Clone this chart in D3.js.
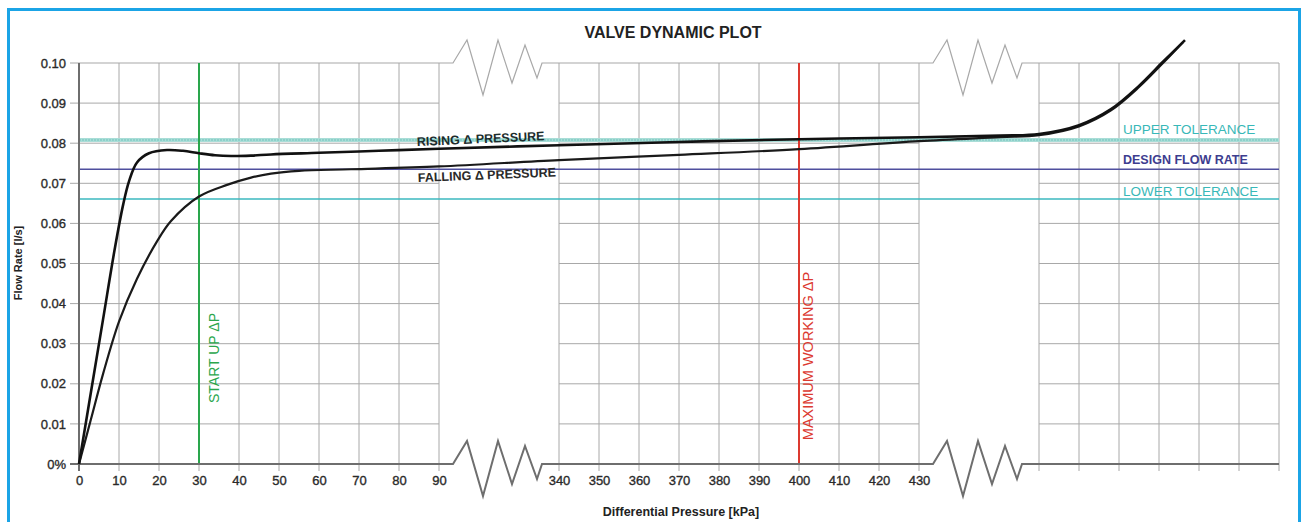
<!DOCTYPE html>
<html lang="en">
<head>
    <meta charset="UTF-8">
    <title>Valve Dynamic Plot</title>
    <script src="https://cdn.jsdelivr.net/npm/d3@7"></script>
    <style>
        body{ margin:0; background:#fff; }
        svg{ position:absolute; left:0px; top:0px; font-family:"Liberation Sans", Arial, sans-serif; }
    </style>
</head>
<body>
    <svg id="chart" width="1304" height="522"></svg>
    <script>
        // x axis is broken in three pieces; the last piece has no labels
        var segments = [[0, 90], [340, 430], [600, 660]]
        var xLabelTicks = [0,10,20,30,40,50,60,70,80,90, 340,350,360,370,380,390,400,410,420,430]
        var xPlainTicks = [600,610,620,630,640,650,660]
        var yTicks = [0,0.01,0.02,0.03,0.04,0.05,0.06,0.07,0.08,0.09,0.10]

        // rising differential pressure curve
        var risingP = [0,3,6,9,11,12.5,14.5,17.5,22,26,30,34,38,43,48,60,75,90,340,370,400,430,545,600,610,618,625,631,636.5]
        var risingQ = [0,0.018,0.036,0.054,0.0645,0.0705,0.0752,0.0775,0.0783,0.0781,0.0775,0.0770,0.0768,0.0769,0.0772,0.0776,0.0781,0.0786,0.0795,0.0803,0.0810,0.0815,0.0819,0.0823,0.0845,0.0885,0.0943,0.1003,0.1057]

        // falling differential pressure curve
        var fallingP = [0,3,6,10,14.5,19.5,23,30,37,43,48,55,68,90,340,370,400,430,545,600,610,618,625,631,636]
        var fallingQ = [0,0.0112,0.0224,0.0355,0.0462,0.0555,0.0606,0.0667,0.0696,0.0714,0.0724,0.0731,0.0735,0.0742,0.0758,0.0771,0.0785,0.0805,0.0815,0.0820,0.0842,0.0882,0.0940,0.1000,0.1052]

        // reference lines
        var upperTolerance = 0.0808
        var designFlow = 0.0735
        var lowerTolerance = 0.0661
        var startUpP = 30
        var maxWorkingP = 400

        var svg = d3.select('#chart')

        var x = d3.scaleLinear()
                .domain([0, 90, 340, 430, 600, 660])
                .range([79, 439, 559, 919, 1039, 1279])
        var y = d3.scaleLinear().domain([0, 0.10]).range([464, 63])

        var gridColor = "#a8a8a8"
        var axisColor = "#6e6e6e"

        // blue frame
        svg.append("rect")
            .attr("x", 8.5).attr("y", 9.5)
            .attr("width", 1291).attr("height", 540)
            .attr("fill", "#fff")
            .attr("stroke", "#1ba4e6")
            .attr("stroke-width", 3)

        var grid = svg.append("g")

        // horizontal grid per segment (the top line is drawn with the break marks)
        segments.forEach(function(s){
            grid.selectAll(null)
                .data(yTicks.filter(function(d){ return d > 0 && d < 0.10 }))
                .enter().append("line")
                .attr("x1", s[0] === 0 ? 70 : x(s[0]))
                .attr("x2", x(s[1]))
                .attr("y1", function(d){ return y(d) })
                .attr("y2", function(d){ return y(d) })
                .attr("stroke", gridColor)
                .attr("stroke-width", 1)
        })

        // vertical grid
        grid.selectAll(null)
            .data(xLabelTicks.concat(xPlainTicks))
            .enter().append("line")
            .attr("x1", function(d){ return x(d) })
            .attr("x2", function(d){ return x(d) })
            .attr("y1", y(0.10))
            .attr("y2", 471)
            .attr("stroke", gridColor)
            .attr("stroke-width", 1)

        // zigzag break symbol, offsets from the start of the gap
        var zig = [[0,0],[14,0],[28,-23],[44,32],[59,-23],[73,20],[86,-18],[98,15],[103,0]]
        function brokenLine(yy, color, w, x0){
            var pts = [[x0, yy]]
            var gaps = [[90, 340], [430, 600]]
            gaps.forEach(function(g){
                var gx = x(g[0])
                zig.forEach(function(p){ pts.push([gx + p[0], yy + p[1]]) })
            })
            pts.push([x(660), yy])
            svg.append("path")
                .attr("d", d3.line()(pts))
                .attr("fill", "none")
                .attr("stroke", color)
                .attr("stroke-width", w)
                .attr("stroke-linejoin", "miter")
        }
        brokenLine(y(0.10), gridColor, 1.2, 70)

        // reference horizontal lines
        svg.append("line")
            .attr("x1", x(0)).attr("x2", x(660))
            .attr("y1", y(upperTolerance)).attr("y2", y(upperTolerance))
            .attr("stroke", "#a9ddd7").attr("stroke-width", 4)
        svg.append("line")
            .attr("x1", x(0)).attr("x2", x(660))
            .attr("y1", y(upperTolerance)).attr("y2", y(upperTolerance))
            .attr("stroke", "#6fc4bd").attr("stroke-width", 1)
            .style("stroke-dasharray", "2 1")
        svg.append("line")
            .attr("x1", x(0)).attr("x2", x(660))
            .attr("y1", y(designFlow)).attr("y2", y(designFlow))
            .attr("stroke", "#4f4f9e").attr("stroke-width", 1.5)
        svg.append("line")
            .attr("x1", x(0)).attr("x2", x(660))
            .attr("y1", y(lowerTolerance)).attr("y2", y(lowerTolerance))
            .attr("stroke", "#3bb9bf").attr("stroke-width", 1.6)

        // vertical markers
        svg.append("line")
            .attr("x1", x(startUpP)).attr("x2", x(startUpP))
            .attr("y1", y(0.10)).attr("y2", y(0))
            .attr("stroke", "#2aa64c").attr("stroke-width", 2)
        svg.append("line")
            .attr("x1", x(maxWorkingP)).attr("x2", x(maxWorkingP))
            .attr("y1", y(0.10)).attr("y2", y(0))
            .attr("stroke", "#dc3a30").attr("stroke-width", 2)

        svg.append("text")
            .attr("transform", "translate(" + (x(startUpP) + 20) + "," + 358 + ") rotate(-90)")
            .attr("text-anchor", "middle")
            .attr("fill", "#2aa64c")
            .style("font-size", "14px")
            .text("START UP ΔP")
        svg.append("text")
            .attr("transform", "translate(" + (x(maxWorkingP) + 14) + "," + 356 + ") rotate(-90)")
            .attr("text-anchor", "middle")
            .attr("fill", "#dc3a30")
            .style("font-size", "14.5px")
            .text("MAXIMUM WORKING ΔP")

        // axes
        svg.append("line")
            .attr("x1", x(0)).attr("x2", x(0))
            .attr("y1", y(0.10)).attr("y2", 471)
            .attr("stroke", axisColor).attr("stroke-width", 2)
        brokenLine(y(0), axisColor, 2, 70)

        var yAxis = d3.axisLeft(y)
                .tickValues(yTicks)
                .tickSize(0)
                .tickPadding(13)
                .tickFormat(function(d){ return d === 0 ? "0%" : d.toFixed(2) })
        var yg = svg.append("g").attr("transform", "translate(" + x(0) + ",0)").call(yAxis)
        yg.select(".domain").remove()
        yg.selectAll("text").style("font-size", "13px").attr("fill", "#2a2a2a")
            .attr("stroke", "#2a2a2a").attr("stroke-width", 0.35)
            .attr("font-family", "Liberation Sans, Arial")

        var xAxis = d3.axisBottom(x)
                .tickValues(xLabelTicks)
                .tickSize(0)
                .tickPadding(12)
        var xg = svg.append("g").attr("transform", "translate(0," + y(0) + ")").call(xAxis)
        xg.select(".domain").remove()
        xg.selectAll("text").style("font-size", "13px").attr("fill", "#2a2a2a")
            .attr("stroke", "#2a2a2a").attr("stroke-width", 0.35)
            .attr("font-family", "Liberation Sans, Arial")

        // curves
        var lineFunction = d3.line()
                .x(function(d){ return x(d[0]) })
                .y(function(d){ return y(d[1]) })
                .curve(d3.curveCatmullRom.alpha(0.5))

        svg.append("path")
            .attr("d", lineFunction(fallingP.map(function(p, i){ return [p, fallingQ[i]] })))
            .attr("fill", "none")
            .attr("stroke", "#1a1a1a")
            .attr("stroke-width", 2.2)
        svg.append("path")
            .attr("d", lineFunction(risingP.map(function(p, i){ return [p, risingQ[i]] })))
            .attr("fill", "none")
            .attr("stroke", "#111")
            .attr("stroke-width", 2.6)

        // curve labels
        svg.append("text")
            .attr("transform", "translate(417,146) rotate(-2.6)")
            .attr("fill", "#1c2d2d")
            .style("font-size", "12.5px").style("font-weight", "bold")
            .text("RISING Δ PRESSURE")
        svg.append("text")
            .attr("transform", "translate(418,182) rotate(-2.3)")
            .attr("fill", "#2a2a2a")
            .style("font-size", "12.5px").style("font-weight", "bold")
            .text("FALLING Δ PRESSURE")

        // right side labels
        svg.append("text").attr("x", 1123).attr("y", 134)
            .attr("fill", "#38b8b8").style("font-size", "13.5px")
            .text("UPPER TOLERANCE")
        svg.append("text").attr("x", 1123).attr("y", 164)
            .attr("fill", "#3d3d8f").style("font-size", "12.5px").style("font-weight", "bold")
            .text("DESIGN FLOW RATE")
        svg.append("text").attr("x", 1123).attr("y", 196)
            .attr("fill", "#38b8b8").style("font-size", "13.5px")
            .text("LOWER TOLERANCE")

        // titles
        svg.append("text").attr("x", 673).attr("y", 38)
            .attr("text-anchor", "middle")
            .attr("fill", "#222")
            .style("font-size", "16px").style("font-weight", "bold")
            .text("VALVE DYNAMIC PLOT")
        svg.append("text").attr("x", 681).attr("y", 516)
            .attr("text-anchor", "middle")
            .attr("fill", "#222")
            .style("font-size", "12.5px").style("font-weight", "bold")
            .text("Differential Pressure [kPa]")
        svg.append("text")
            .attr("transform", "translate(22,263) rotate(-90)")
            .attr("text-anchor", "middle")
            .attr("fill", "#222")
            .style("font-size", "11px").style("font-weight", "bold")
            .text("Flow Rate [l/s]")
    </script>
</body>
</html>
